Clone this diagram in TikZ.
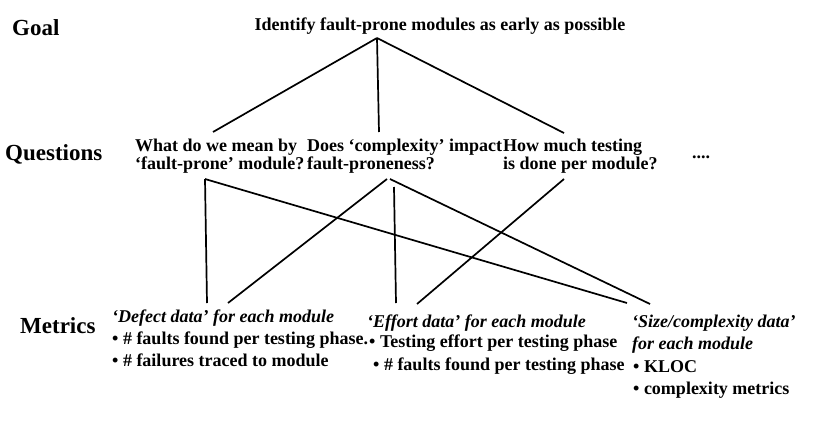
\documentclass[tikz,border=0pt]{standalone}
\usepackage{fontspec}
\setmainfont{Liberation Serif}
\begin{document}
\begin{tikzpicture}[x=1pt,y=-1pt,
  lbl/.style={anchor=base west,inner sep=0pt,font=\fontsize{23}{26}\selectfont\bfseries},
  txt/.style={anchor=base west,inner sep=0pt,font=\fontsize{18}{20}\selectfont\bfseries},
  ttl/.style={anchor=base west,inner sep=0pt,font=\fontsize{18}{20}\selectfont\bfseries\itshape},
  conn/.style={line width=1.7pt,black}]
\useasboundingbox (0,0) rectangle (814,434);
% level labels
\node[lbl] (goal) at (12,35) {Goal};
\node[lbl] (questions) at (5,160) {Questions};
\node[lbl] (metrics) at (20,333) {Metrics};
% goal
\node[txt,anchor=base] (g) at (440,30) {Identify fault-prone modules as early as possible};
% questions
\node[txt] (q1a) at (135,151) {What do we mean by};
\node[txt] (q1b) at (135,169) {‘fault-prone’ module?};
\node[txt] (q2a) at (307,151) {Does ‘complexity’ impact};
\node[txt] (q2b) at (307,169) {fault-proneness?};
\node[txt] (q3a) at (503,151) {How much testing};
\node[txt] (q3b) at (503,169) {is done per module?};
\node[txt] (dots) at (692,158) {....};
% metrics
\node[ttl] (d1) at (112,322) {‘Defect data’ for each module};
\node[txt] (d2) at (112,344) {• \# faults found per testing phase.};
\node[txt] (d3) at (112,366) {• \# failures traced to module};
\node[ttl] (e1) at (367,327) {‘Effort data’ for each module};
\node[txt] (e2) at (369,347) {• Testing effort per testing phase};
\node[txt] (e3) at (373,370) {• \# faults found per testing phase};
\node[ttl] (s1) at (632,327) {‘Size/complexity data’};
\node[ttl] (s2) at (632,349) {for each module};
\node[txt] (s3) at (633,372) {• KLOC};
\node[txt] (s4) at (633,394) {• complexity metrics};
% connection points
\coordinate (gA) at (377,38);
\coordinate (q1t) at (213,132);
\coordinate (q2t) at (379,132);
\coordinate (q3t) at (564,133);
\coordinate (q1o) at (205,179);
\coordinate (q2o) at (387,179);
\coordinate (q2r) at (390,179);
\coordinate (q2v) at (394,187);
\coordinate (q3o) at (564,179);
\coordinate (dA) at (207,303);
\coordinate (dB) at (228,303);
\coordinate (eA) at (396,303);
\coordinate (eB) at (417,304);
\coordinate (sA) at (627,303);
\coordinate (sB) at (650,304);
% connectors
\draw[conn] (gA) -- (q1t);
\draw[conn] (gA) -- (q2t);
\draw[conn] (gA) -- (q3t);
\draw[conn] (q1o) -- (dA);
\draw[conn] (q1o) -- (sA);
\draw[conn] (q2o) -- (dB);
\draw[conn] (q2r) -- (sB);
\draw[conn] (q2v) -- (eA);
\draw[conn] (q3o) -- (eB);
\end{tikzpicture}
\end{document}
